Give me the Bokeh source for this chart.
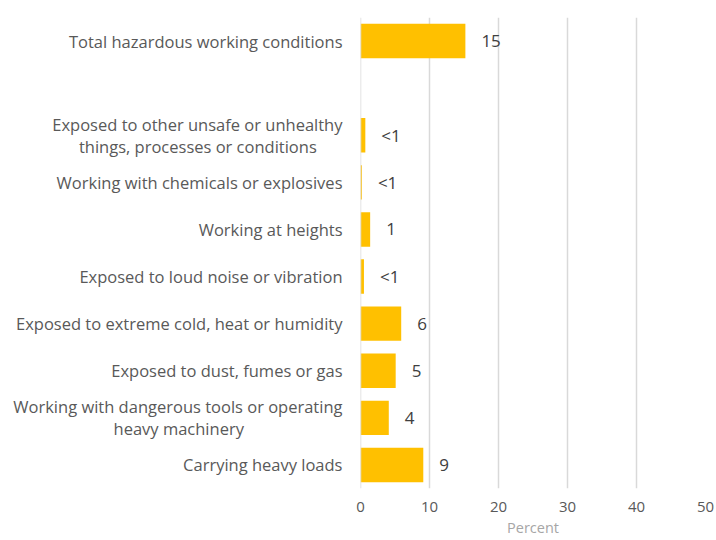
from bokeh.plotting import figure
from bokeh.models import ColumnDataSource, FactorRange, FixedTicker, Span
from bokeh.embed import file_html
from bokeh.resources import INLINE
from bokeh.core.properties import value

NB = "\u00a0"
categories = [
    "Total hazardous working conditions",
    " ",
    "Exposed to other unsafe or unhealthy\nthings, processes or conditions" + NB * 6,
    "Working with chemicals or explosives",
    "Working at heights",
    "Exposed to loud noise or vibration",
    "Exposed to extreme cold, heat or humidity",
    "Exposed to dust, fumes or gas",
    "Working with dangerous tools or operating\nheavy machinery" + NB * 23,
    "Carrying heavy loads",
]
values = [15.2, 0.0, 0.7, 0.2, 1.4, 0.5, 5.9, 5.1, 4.1, 9.1]
value_labels = ["15", "", "<1", "<1", "1", "<1", "6", "5", "4", "9"]
x_ticks = [0, 10, 20, 30, 40, 50]

FONT = "Open Sans"
src = ColumnDataSource(dict(cat=categories, val=values, lab=value_labels))

p = figure(
    width=716, height=540,
    y_range=FactorRange(*list(reversed(categories)), range_padding=0),
    x_range=(0, 50),
    output_backend="svg", toolbar_location=None,
    min_border_left=360, min_border_right=11, min_border_top=17, min_border_bottom=52,
)
p.outline_line_color = None
p.background_fill_color = "white"
p.border_fill_color = "white"

p.add_layout(Span(location=0, dimension="height", line_color="#D9D9D9", line_width=1.5))

p.hbar(y="cat", right="val", left=0, height=0.73, source=src,
       fill_color="#FFC000", line_color=None)
p.text(x="val", y="cat", text="lab", source=src, x_offset=16,
       text_align="left", text_baseline="middle",
       text_font=value(FONT), text_font_size="17px", text_color="#404040")

p.xgrid.ticker = FixedTicker(ticks=x_ticks)
p.xgrid.grid_line_color = "#D9D9D9"
p.xgrid.grid_line_width = 1.5
p.ygrid.grid_line_color = None

p.xaxis.ticker = FixedTicker(ticks=x_ticks)
p.xaxis.axis_line_color = None
p.xaxis.major_tick_line_color = None
p.xaxis.minor_tick_line_color = None
p.xaxis.major_label_text_font = FONT
p.xaxis.major_label_text_font_size = "15px"
p.xaxis.major_label_text_color = "#595959"
p.xaxis.major_label_standoff = 7
p.xaxis.axis_label = "Percent"
p.xaxis.axis_label_text_font = FONT
p.xaxis.axis_label_text_font_size = "14.5px"
p.xaxis.axis_label_text_font_style = "normal"
p.xaxis.axis_label_text_color = "#A6A6A6"
p.xaxis.axis_label_standoff = 3

p.yaxis.axis_line_color = None
p.yaxis.major_tick_line_color = None
p.yaxis.minor_tick_line_color = None
p.yaxis.major_label_text_font = FONT
p.yaxis.major_label_text_font_size = "16.5px"
p.yaxis.major_label_text_color = "#595959"
p.yaxis.major_label_text_line_height = 0.95
p.yaxis.major_label_standoff = 12

open("out.html", "w").write(file_html(p, INLINE))
